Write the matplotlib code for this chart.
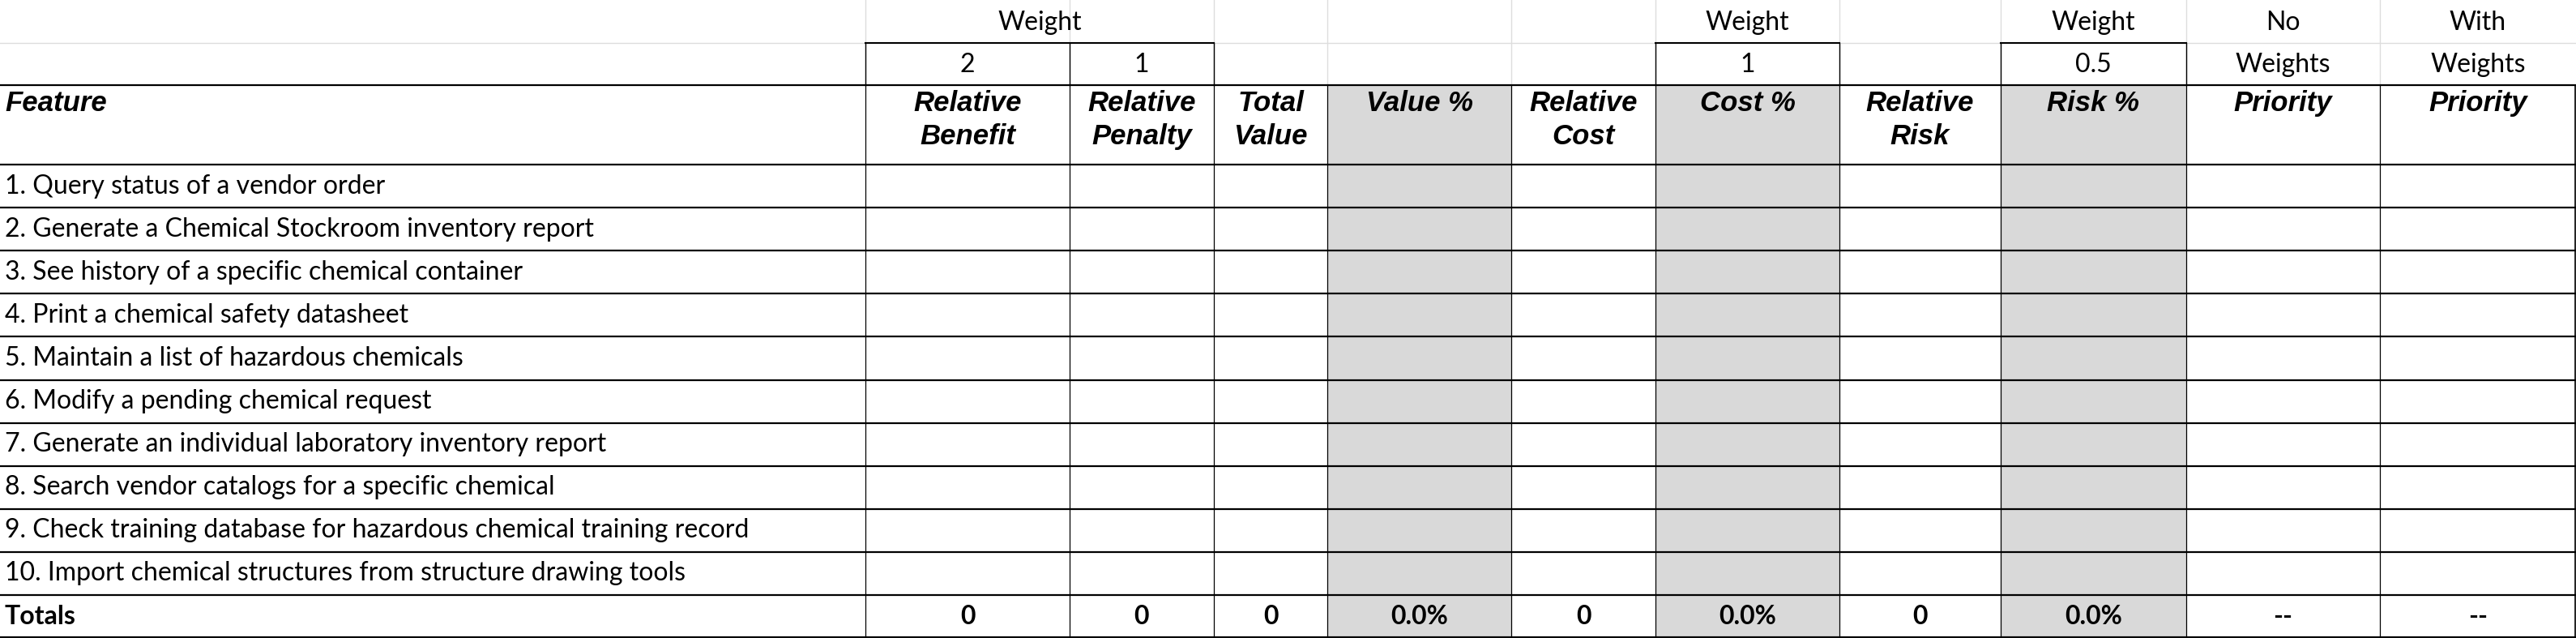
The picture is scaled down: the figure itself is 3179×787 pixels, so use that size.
import matplotlib
matplotlib.use("Agg")
import matplotlib.pyplot as plt
from matplotlib.patches import Rectangle

features = ["1. Query status of a vendor order",
            "2. Generate a Chemical Stockroom inventory report",
            "3. See history of a specific chemical container",
            "4. Print a chemical safety datasheet",
            "5. Maintain a list of hazardous chemicals",
            "6. Modify a pending chemical request",
            "7. Generate an individual laboratory inventory report",
            "8. Search vendor catalogs for a specific chemical",
            "9. Check training database for hazardous chemical training record",
            "10. Import chemical structures from structure drawing tools"]
headers = ["Feature", "Relative\nBenefit", "Relative\nPenalty", "Total\nValue", "Value %",
           "Relative\nCost", "Cost %", "Relative\nRisk", "Risk %", "Priority", "Priority"]
weights = {1: "2", 2: "1", 6: "1", 8: "0.5"}
totals = ["Totals", "0", "0", "0", "0.0%", "0", "0.0%", "0", "0.0%", "--", "--"]

W, H = 3179, 787
colx = [0, 1068, 1320, 1498, 1638, 1865, 2043, 2270, 2469, 2698, 2937, 3179]
rowy = [0, 53, 105, 203] + [203 + 53.1 * (i + 1) for i in range(11)]
rowy[-1] = 786
shaded = [4, 6, 8]

fig = plt.figure(figsize=(W / 100, H / 100), dpi=100)
ax = fig.add_axes([0, 0, 1, 1])
ax.set_xlim(0, W)
ax.set_ylim(H, 0)
ax.axis("off")

body = ["Lato", "DejaVu Sans"]
head = ["Liberation Sans Narrow", "Liberation Sans", "DejaVu Sans"]
fs = 23
hfs = 25

for c in shaded:
    ax.add_patch(Rectangle((colx[c], rowy[2]), colx[c + 1] - colx[c], rowy[-1] - rowy[2],
                           facecolor="#d9d9d9", edgecolor="none", zorder=0))

for x in colx[1:-1]:
    ax.plot([x, x], [0, rowy[2]], color="#dddddd", lw=1, zorder=1)
ax.plot([0, W], [rowy[1], rowy[1]], color="#dddddd", lw=1, zorder=1)

for c0, c1 in [(1, 3), (6, 7), (8, 9)]:
    ax.plot([colx[c0], colx[c1]], [rowy[1], rowy[1]], color="black", lw=1.5, zorder=2)
    for c in range(c0, c1 + 1):
        ax.plot([colx[c], colx[c]], [rowy[1], rowy[2]], color="black", lw=1, zorder=2)

for y in rowy[2:]:
    ax.plot([0, W], [y, y], color="black", lw=1.6, zorder=2)
for x in colx[1:]:
    ax.plot([x, x], [rowy[2], rowy[-1]], color="black", lw=0.9, zorder=2)
ax.plot([W - 1, W - 1], [rowy[2], rowy[-1]], color="black", lw=1.2, zorder=2)

def cx(c):
    return (colx[c] + colx[c + 1]) / 2

ax.text((colx[1] + colx[3]) / 2, 28, "Weight", ha="center", va="center", fontsize=fs, family=body)
ax.text(cx(6), 28, "Weight", ha="center", va="center", fontsize=fs, family=body)
ax.text(cx(8), 28, "Weight", ha="center", va="center", fontsize=fs, family=body)
ax.text(cx(9), 28, "No", ha="center", va="center", fontsize=fs, family=body)
ax.text(cx(10), 28, "With", ha="center", va="center", fontsize=fs, family=body)
for c, v in weights.items():
    ax.text(cx(c), 80, v, ha="center", va="center", fontsize=fs, family=body)
ax.text(cx(9), 80, "Weights", ha="center", va="center", fontsize=fs, family=body)
ax.text(cx(10), 80, "Weights", ha="center", va="center", fontsize=fs, family=body)

for c, h in enumerate(headers):
    if c == 0:
        ax.text(6, rowy[2] + 6, h, ha="left", va="top", fontsize=hfs, family=head,
                weight="bold", style="italic")
    else:
        ax.text(cx(c), rowy[2] + 6, h, ha="center", va="top", fontsize=hfs, family=head,
                weight="bold", style="italic", linespacing=1.3)

for i, f in enumerate(features):
    y = (rowy[3 + i] + rowy[4 + i]) / 2
    ax.text(6, y, f, ha="left", va="center", fontsize=fs, family=body)

y = (rowy[-2] + rowy[-1]) / 2
for c, t in enumerate(totals):
    if c == 0:
        ax.text(6, y, t, ha="left", va="center", fontsize=fs, family=body, weight="bold")
    else:
        ax.text(cx(c), y, t, ha="center", va="center", fontsize=fs, family=body, weight="bold")

fig.savefig("out.png", dpi=100)
